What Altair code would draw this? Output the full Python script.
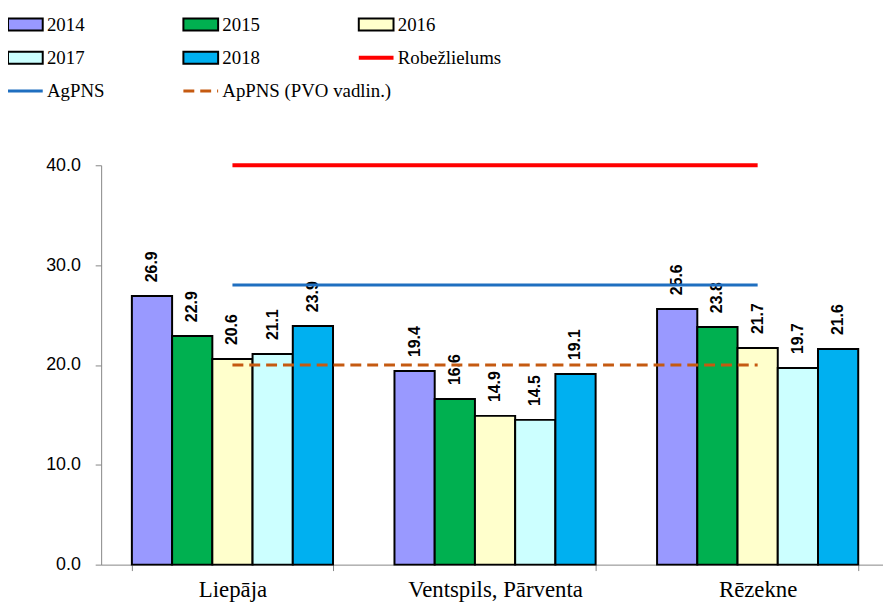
import altair as alt
import pandas as pd

cities = ["Liepāja", "Ventspils, Pārventa", "Rēzekne"]
years = ["2014", "2015", "2016", "2017", "2018"]
liepaja = [26.9, 22.9, 20.6, 21.1, 23.9]
ventspils = [19.4, 16.6, 14.9, 14.5, 19.1]
rezekne = [25.6, 23.8, 21.7, 19.7, 21.6]
ref_names = ["Robežlielums", "AgPNS", "ApPNS (PVO vadlin.)"]
ref_values = [40, 28, 20]

year_colors = ["#9999FF", "#00B050", "#FFFFCC", "#CCFFFF", "#00B0F0"]
ref_styles = {
    "Robežlielums": dict(color="#FF0000", strokeWidth=4),
    "AgPNS": dict(color="#1F6FC0", strokeWidth=3),
    "ApPNS (PVO vadlin.)": dict(color="#C55A11", strokeWidth=3, strokeDash=[11, 6]),
}

rows = []
for city, vals in zip(cities, [liepaja, ventspils, rezekne]):
    for yr, v in zip(years, vals):
        rows.append({"City": city, "Year": yr, "Value": v})
df = pd.DataFrame(rows)

refs = pd.DataFrame({"name": ref_names, "value": ref_values,
                     "start": cities[0], "end": cities[-1]})

entries = years + ref_names
leg = pd.DataFrame({"label": entries,
                    "row": [i // 3 for i in range(len(entries))],
                    "col": [i % 3 for i in range(len(entries))],
                    "kind": ["box"] * len(years) + ["line"] * len(ref_names)})

W, H = 789, 403

xscale = alt.Scale(domain=cities, paddingInner=0.234, paddingOuter=0.117, range=[0, 795])
yscale = alt.Scale(domain=[0, 40], nice=False)
xaxis = alt.Axis(title=None, labelAngle=0, tickBand="extent", labelFont="Liberation Serif",
                 labelFontSize=23, labelColor="black", domainColor="#868686",
                 tickColor="#868686", tickSize=6, labelPadding=8, grid=False)
yaxis = alt.Axis(title=None, values=[0, 10, 20, 30, 40], format=".1f",
                 labelFont="Liberation Sans", labelFontSize=18, labelColor="black",
                 domainColor="#868686", tickColor="#868686", tickSize=6,
                 labelPadding=15, grid=False)
xoff = alt.XOffset("Year:N", scale=alt.Scale(domain=years, paddingInner=0, paddingOuter=0))

bars = alt.Chart(df).mark_bar(stroke="black", strokeWidth=2).encode(
    x=alt.X("City:N", scale=xscale, axis=xaxis),
    xOffset=xoff,
    y=alt.Y("Value:Q", scale=yscale, axis=yaxis),
    color=alt.Color("Year:N", scale=alt.Scale(domain=years, range=year_colors), legend=None),
)

labels = alt.Chart(df).mark_text(angle=270, align="left", baseline="middle", dx=14,
                                 font="Liberation Sans", fontWeight="bold",
                                 fontSize=16, color="black").encode(
    x=alt.X("City:N", scale=xscale, axis=xaxis),
    xOffset=xoff,
    y=alt.Y("Value:Q", scale=yscale, axis=yaxis),
    text=alt.Text("Value:Q", format=".1f"),
)

rule_layers = []
for n in ref_names:
    rule_layers.append(
        alt.Chart(refs).transform_filter(alt.datum.name == n).mark_rule(**ref_styles[n]).encode(
            x=alt.X("start:N", scale=xscale, axis=xaxis),
            x2="end:N",
            y=alt.Y("value:Q", scale=yscale, axis=yaxis),
        )
    )

main = alt.layer(bars, labels, *rule_layers)

# legend block above the plot
lx = alt.Scale(domain=[0, 3], range=[-94, -94 + 3 * 177], nice=False, zero=False)
ly = alt.Scale(domain=[0, 2], range=[-142, -75], nice=False, zero=False)

base_leg = alt.Chart(leg).transform_calculate(
    x_end="datum.col + 0.198", x_txt="datum.col + 0.222",
    y_lo="datum.row - 0.18", y_hi="datum.row + 0.18")

boxes = base_leg.transform_filter(alt.datum.kind == "box").mark_rect(
    stroke="black", strokeWidth=2).encode(
    x=alt.X("col:Q", scale=lx, axis=None), x2="x_end:Q",
    y=alt.Y("y_lo:Q", scale=ly, axis=None), y2="y_hi:Q",
    color=alt.Color("label:N", scale=alt.Scale(domain=years, range=year_colors), legend=None),
)

leg_lines = []
for n in ref_names:
    leg_lines.append(
        base_leg.transform_filter(alt.datum.label == n).mark_rule(**ref_styles[n]).encode(
            x=alt.X("col:Q", scale=lx, axis=None), x2="x_end:Q",
            y=alt.Y("row:Q", scale=ly, axis=None),
        )
    )

leg_text = base_leg.mark_text(align="left", baseline="middle", font="Liberation Serif",
                              fontSize=19, color="black").encode(
    x=alt.X("x_txt:Q", scale=lx, axis=None),
    y=alt.Y("row:Q", scale=ly, axis=None),
    text="label:N",
)

legend = alt.layer(boxes, *leg_lines, leg_text)

chart = alt.layer(main, legend).resolve_scale(
    x="independent", y="independent", color="independent"
).properties(
    width=W, height=H,
    autosize=alt.AutoSizeParams(type="none"),
    padding={"left": 94, "top": 156, "right": 0, "bottom": 36},
).configure_view(stroke=None)

chart.save("out.html", embed_options={"renderer": "svg", "actions": False})
